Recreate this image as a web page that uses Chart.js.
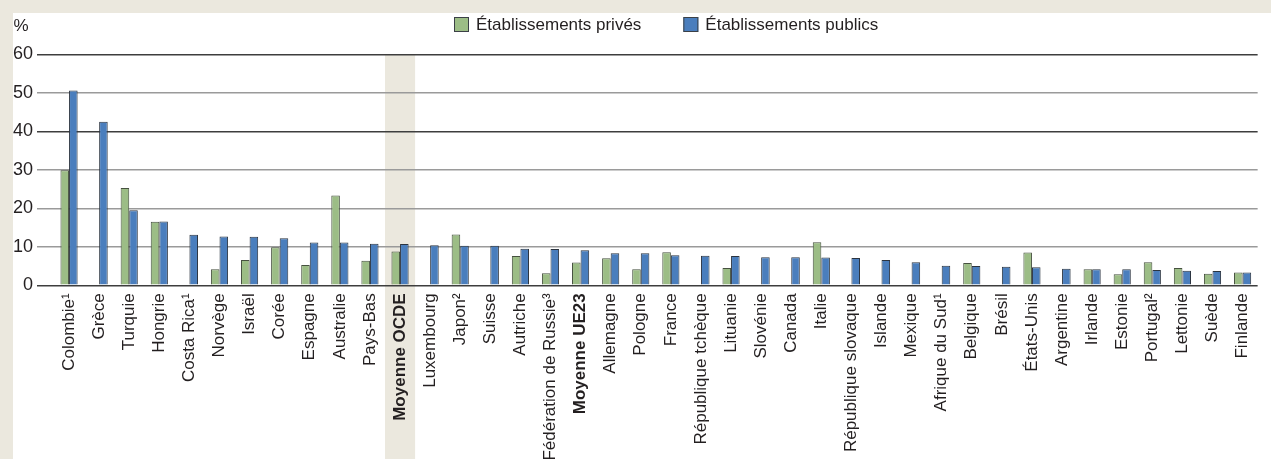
<!DOCTYPE html>
<html>
<head>
<meta charset="utf-8">
<script src="https://cdn.jsdelivr.net/npm/chart.js@4/dist/chart.umd.min.js"></script>
<style>
  body { margin: 0; background: #ebe8de; width: 1271px; height: 459px; overflow: hidden; }
  #wrap { position: absolute; left: 13px; top: 13px; width: 1258px; height: 446px; background: #fff; }
</style>
</head>
<body>
<div id="wrap"><canvas id="chart"></canvas></div>
<script>
const categories = ['Colombie¹', 'Grèce', 'Turquie', 'Hongrie', 'Costa Rica¹', 'Norvège', 'Israël', 'Corée',
  'Espagne', 'Australie', 'Pays-Bas', 'Moyenne OCDE', 'Luxembourg', 'Japon²', 'Suisse', 'Autriche',
  'Fédération de Russie³', 'Moyenne UE23', 'Allemagne', 'Pologne', 'France', 'République tchèque',
  'Lituanie', 'Slovénie', 'Canada', 'Italie', 'République slovaque', 'Islande', 'Mexique',
  'Afrique du Sud¹', 'Belgique', 'Brésil', 'États-Unis', 'Argentine', 'Irlande', 'Estonie',
  'Portugal²', 'Lettonie', 'Suède', 'Finlande'];

const prives = [29.9, null, 25.3, 16.5, null, 4.2, 6.6, 9.9, 5.3, 23.3, 6.4, 8.8, null, 13.2, null, 7.6,
  3.1, 5.9, 7.0, 4.2, 8.6, null, 4.5, null, null, 11.2, null, null, null,
  null, 5.8, null, 8.5, null, 4.2, 2.9, 6.0, 4.5, 3.0, 3.3];

const publics = [50.6, 42.5, 19.5, 16.6, 13.1, 12.7, 12.6, 12.2, 11.1, 11.1, 10.8, 10.7, 10.4, 10.3, 10.3, 9.5,
  9.4, 9.1, 8.3, 8.3, 7.8, 7.7, 7.6, 7.3, 7.3, 7.2, 7.1, 6.6, 6.0,
  5.1, 5.0, 4.8, 4.7, 4.3, 4.2, 4.2, 4.0, 3.8, 3.7, 3.3];

const seriesNames = ['Établissements privés', 'Établissements publics'];
const yTicks = [0, 10, 20, 30, 40, 50, 60];
const boldCats = ['Moyenne OCDE', 'Moyenne UE23'];
const shadedCats = ['Moyenne OCDE'];

const FONT = "'Liberation Sans', Arial, sans-serif";
const TEXT = '#231f20';
const BEIGE = '#ebe8de';

// shaded column behind the OECD average + the "%" unit + legend
const extras = {
  id: 'extras',
  beforeDraw(chart) {
    const { ctx, chartArea, scales } = chart;
    const x = scales.x;
    const w = (chartArea.right - chartArea.left) / categories.length;
    ctx.save();
    ctx.fillStyle = BEIGE;
    shadedCats.forEach(c => {
      const cx = x.getPixelForValue(categories.indexOf(c));
      ctx.fillRect(cx - w / 2, chartArea.top, w, chart.height - chartArea.top);
    });
    ctx.restore();
  },
  afterDraw(chart) {
    const { ctx } = chart;
    ctx.save();
    ctx.fillStyle = TEXT;
    ctx.font = '17px ' + FONT;
    ctx.textBaseline = 'middle';
    ctx.textAlign = 'left';
    ctx.fillText('%', 0.5, 13);

    // legend
    ctx.font = '17px ' + FONT;
    const box = 15, gap = 7, between = 42;
    const widths = seriesNames.map(s => ctx.measureText(s).width);
    const total = widths.reduce((a, b) => a + b, 0) + 2 * (box + gap) + between;
    let lx = Math.round(653 - total / 2);
    chart.data.datasets.forEach((ds, i) => {
      ctx.fillStyle = ds.backgroundColor;
      ctx.fillRect(lx, 4, box, box);
      ctx.strokeStyle = '#3b4046';
      ctx.lineWidth = 1;
      ctx.strokeRect(lx + 0.5, 4.5, box - 1, box - 1);
      ctx.fillStyle = TEXT;
      ctx.fillText(ds.label, lx + box + gap, 12);
      lx += box + gap + widths[i] + between;
    });
    ctx.restore();
  }
};

new Chart(document.getElementById('chart'), {
  type: 'bar',
  data: {
    labels: categories,
    datasets: [
      { label: seriesNames[0], data: prives, backgroundColor: '#9cbd86', borderColor: '#46513f', borderWidth: 1 },
      { label: seriesNames[1], data: publics, backgroundColor: '#4a7ebd', borderColor: '#2b3440', borderWidth: 1 }
    ]
  },
  options: {
    responsive: true,
    maintainAspectRatio: false,
    animation: false,
    layout: { padding: { top: 41.3, left: 0, right: 0, bottom: 0 } },
    datasets: { bar: { categoryPercentage: 0.57, barPercentage: 1.0 } },
    plugins: {
      legend: { display: false },
      tooltip: { enabled: false }
    },
    scales: {
      x: {
        grid: { display: false, drawTicks: false },
        border: { display: false },
        afterFit: s => { s.height = 173.7; },
        ticks: {
          autoSkip: false,
          maxRotation: 90,
          minRotation: 90,
          padding: 8,
          color: TEXT,
          font: c => ({
            family: FONT,
            size: 17,
            weight: boldCats.includes(categories[c.index]) ? 'bold' : 'normal'
          })
        }
      },
      y: {
        min: 0,
        max: 60,
        afterFit: s => { s.width = 41; },
        afterBuildTicks: s => { s.ticks = yTicks.map(v => ({ value: v })); },
        border: { display: false },
        grid: {
          color: c => ([0, 40, 60].includes(c.tick.value) ? '#3e3e3e' : '#9a9a9a'),
          lineWidth: 1.5,
          tickLength: 17
        },
        ticks: {
          padding: 4,
          color: TEXT,
          font: { family: FONT, size: 18 }
        }
      }
    }
  },
  plugins: [extras]
});
</script>
</body>
</html>
